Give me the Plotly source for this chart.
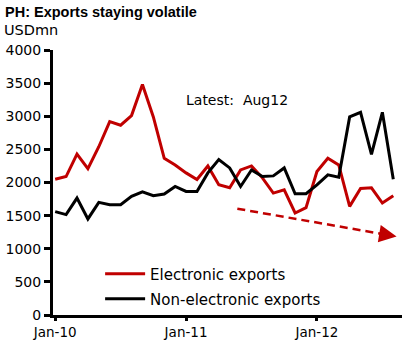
import plotly.graph_objects as go

months = list(range(32))  # Jan-10 .. Aug-12
tick_vals = [0, 12, 24]
tick_text = ["Jan-10", "Jan-11", "Jan-12"]

electronic = [2050, 2090, 2430, 2210, 2540, 2920, 2865, 3010, 3480, 2990,
              2365, 2265, 2145, 2045, 2250, 1965, 1920, 2190, 2250, 2070,
              1840, 1890, 1540, 1620, 2165, 2365, 2265, 1640, 1910, 1920,
              1690, 1800]
non_electronic = [1560, 1515, 1765, 1450, 1700, 1665, 1665, 1790, 1860, 1800,
                  1825, 1940, 1865, 1865, 2145, 2345, 2220, 1940, 2190, 2090,
                  2100, 2220, 1830, 1830, 1965, 2115, 2080, 2990, 3060, 2425,
                  3060, 2050]

trend_x = [16.7, 31.3]
trend_y = [1605, 1185]

RED = "#C00000"
FONT = "DejaVu Sans"

fig = go.Figure()
fig.add_trace(go.Scatter(x=months, y=electronic, mode="lines", name="Electronic exports",
                         line=dict(color=RED, width=3), legend="legend"))
fig.add_trace(go.Scatter(x=months, y=non_electronic, mode="lines", name="Non-electronic exports",
                         line=dict(color="black", width=3), legend="legend2"))
fig.add_trace(go.Scatter(x=[trend_x[0], trend_x[1] - 0.8], y=[trend_y[0], trend_y[1] + 23],
                         mode="lines", line=dict(color=RED, width=2.5, dash="8px,5px"),
                         showlegend=False, hoverinfo="skip"))
fig.add_annotation(x=trend_x[1], y=trend_y[1], ax=-12, ay=-2, text="", showarrow=True,
                   arrowhead=2, arrowsize=1.4, arrowwidth=2.5, arrowcolor=RED, standoff=0)

fig.add_annotation(x=11.8, y=3250, text="Latest:  Aug12", showarrow=False, xanchor="left",
                   font=dict(family=FONT, size=14, color="black"))

fig.update_layout(
    width=405, height=341,
    margin=dict(l=53, r=3, t=50, b=26),
    paper_bgcolor="white", plot_bgcolor="white",
    font=dict(family=FONT, size=14, color="black"),
    showlegend=True,
    legend=dict(x=0.135, y=0.155, xanchor="left", yanchor="middle", bgcolor="rgba(0,0,0,0)",
                font=dict(family=FONT, size=15), itemwidth=40),
    legend2=dict(x=0.135, y=0.060, xanchor="left", yanchor="middle", bgcolor="rgba(0,0,0,0)",
                 font=dict(family=FONT, size=15), itemwidth=40),
)

fig.add_annotation(text="<b>PH: Exports staying volatile</b>", xref="paper", yref="paper",
                   x=-50 / 349, y=1 + 38 / 266, xanchor="left", yanchor="middle", showarrow=False,
                   font=dict(family="Liberation Sans", size=14.5, color="black"))
fig.add_annotation(text="USDmn", xref="paper", yref="paper",
                   x=-51 / 349, y=1 + 20 / 266, xanchor="left", yanchor="middle", showarrow=False,
                   font=dict(family=FONT, size=14.5, color="black"))

fig.update_xaxes(range=[-0.2, 31.8], tickvals=tick_vals, ticktext=tick_text, automargin=False,
                 showgrid=False, zeroline=False, showline=True, linecolor="black", linewidth=3,
                 ticks="outside", ticklen=3, tickwidth=3, tickcolor="black",
                 ticklabelstandoff=0,
                 tickfont=dict(family=FONT, size=13.5))
fig.update_yaxes(range=[0, 4000], tickvals=list(range(0, 4001, 500)), automargin=False,
                 showgrid=False, zeroline=False, showline=True, linecolor="black", linewidth=3,
                 ticks="outside", ticklen=6, tickwidth=3, tickcolor="black",
                 tickfont=dict(family=FONT, size=14))

fig.write_html("out.html")
